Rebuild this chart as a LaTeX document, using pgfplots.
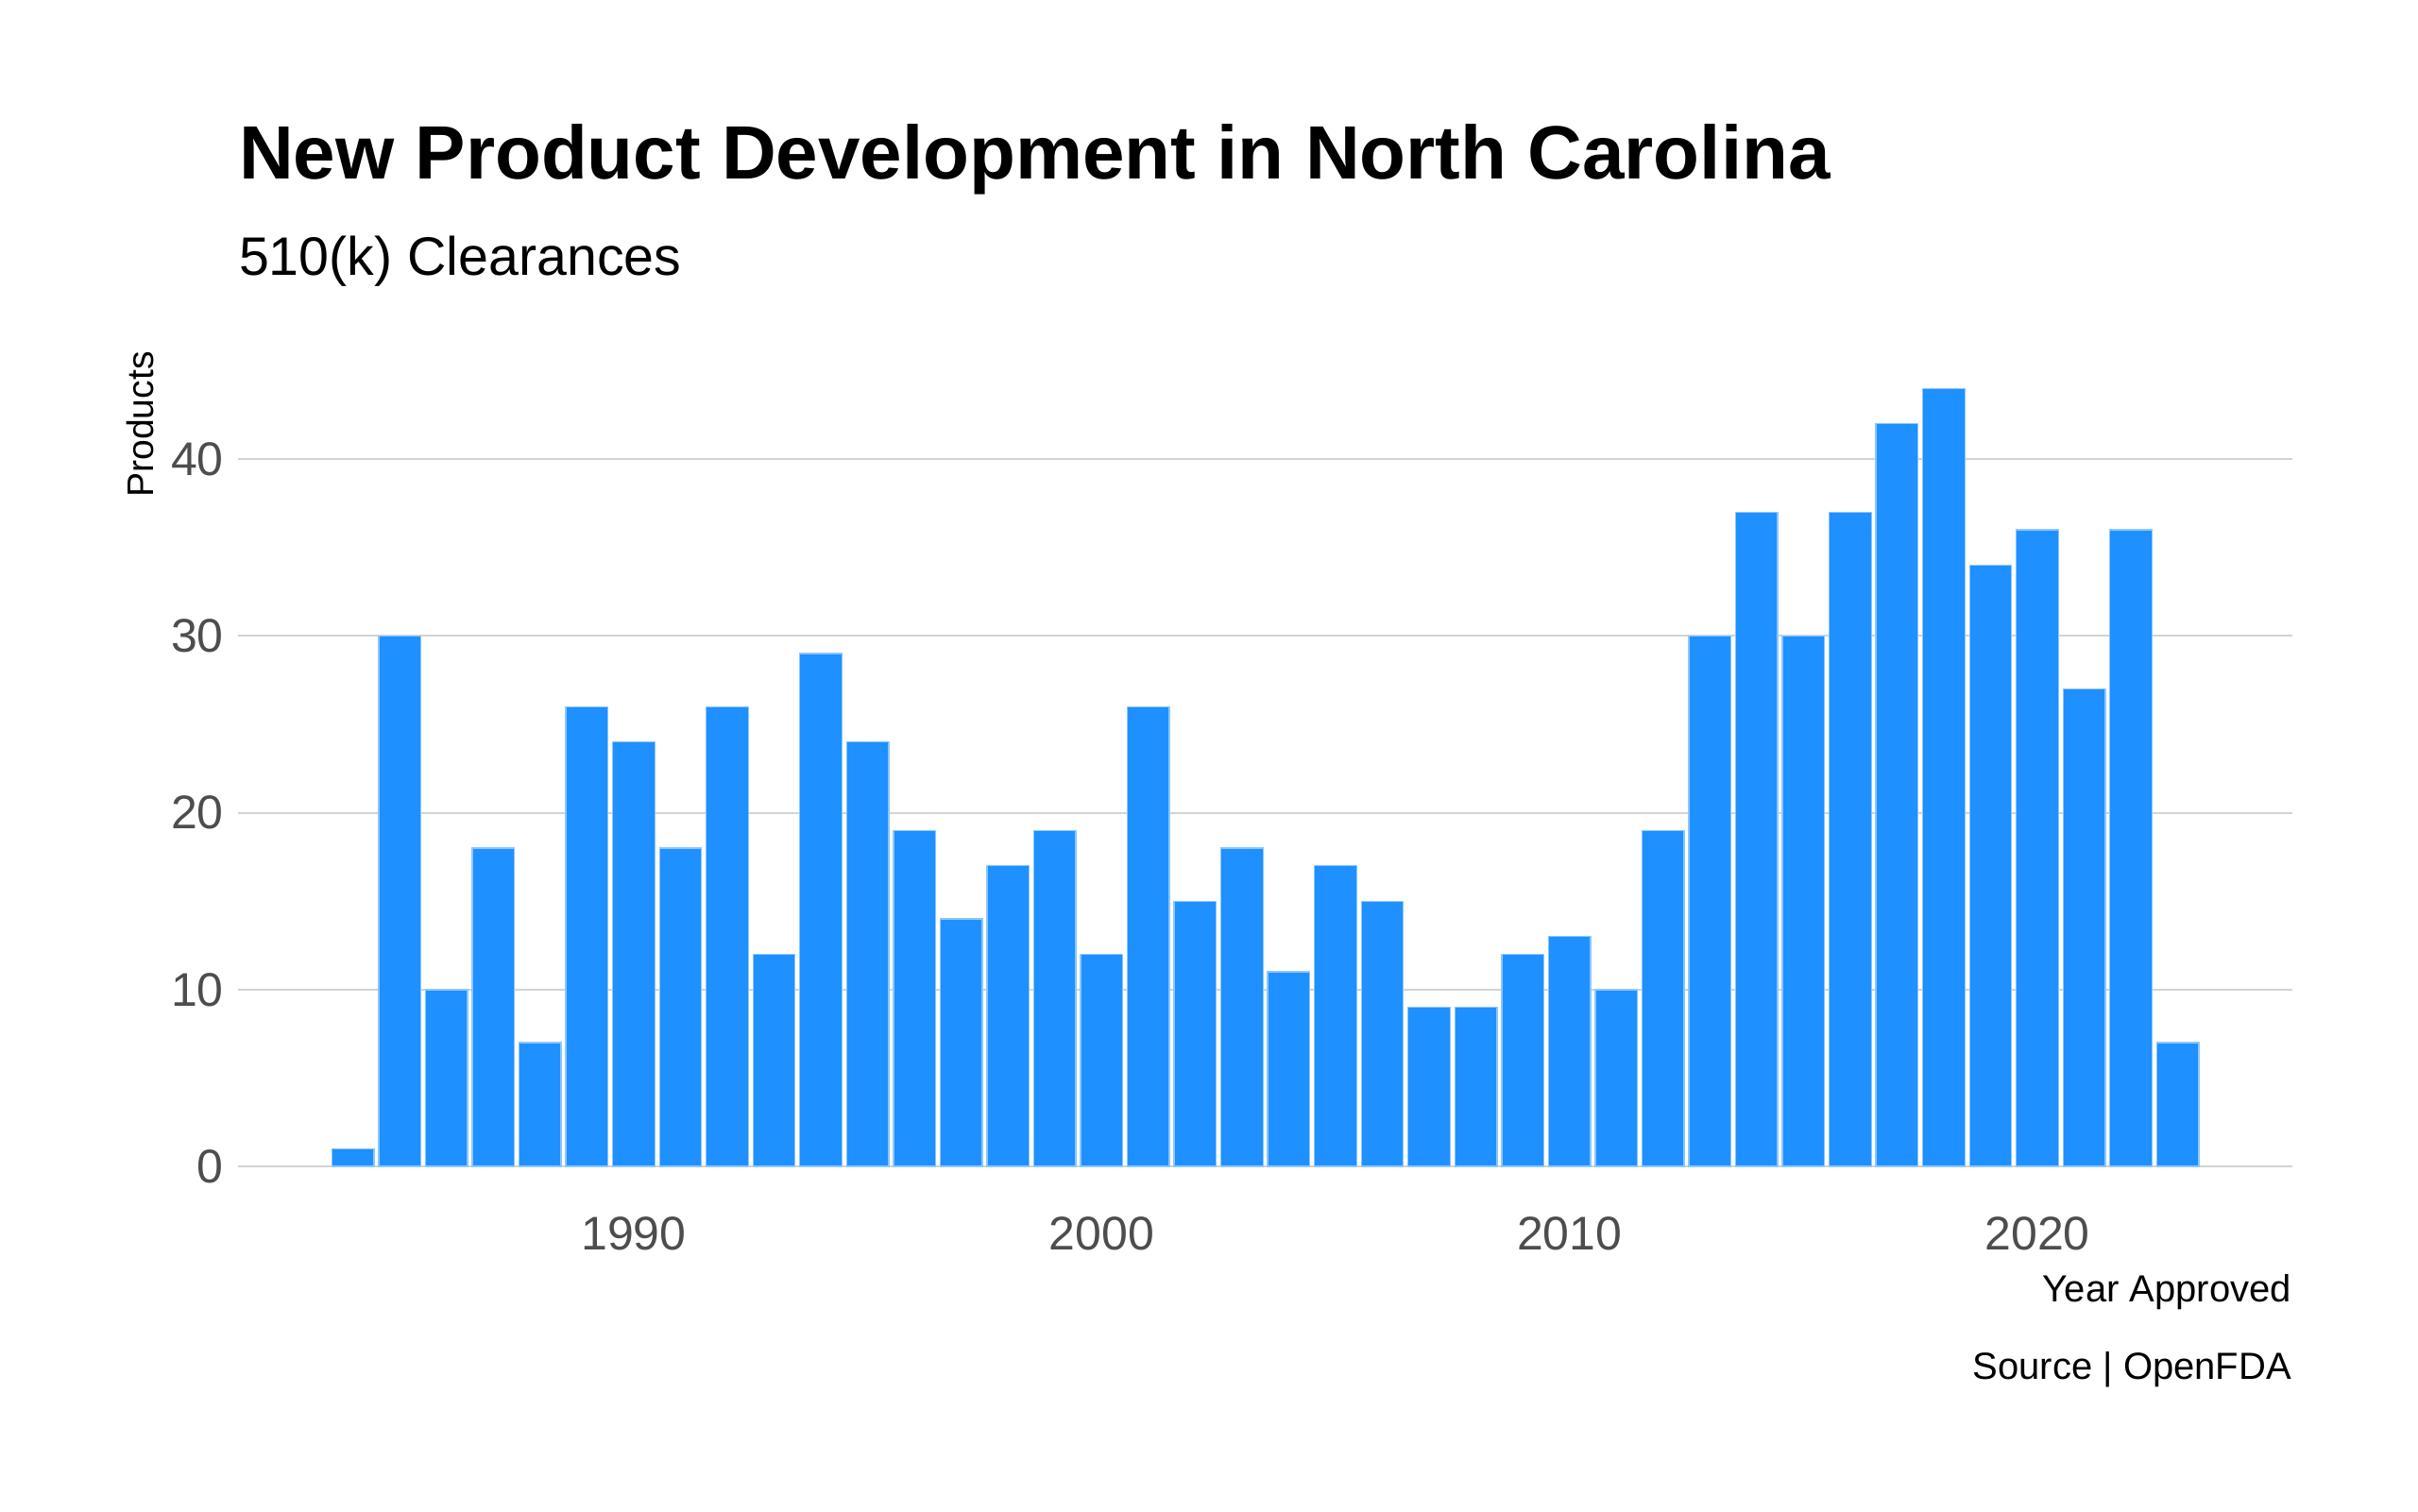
\documentclass[border=0pt]{standalone}
\usepackage{fontspec}
\setmainfont{Liberation Sans}
\usepackage{pgfplots}
\pgfplotsset{compat=1.18}
\definecolor{barblue}{HTML}{1E90FF}
\definecolor{barline}{HTML}{8CC6FF}
\definecolor{gridgrey}{HTML}{D3D3D3}
\definecolor{ticktext}{HTML}{4D4D4D}
\begin{document}
\begin{tikzpicture}
\path (0pt,0pt) rectangle (768pt,480pt);
\begin{axis}[
  at={(75.7pt,97.1pt)}, anchor=south west,
  scale only axis, width=652.4pt, height=271.9pt,
  xmin=1981.55, xmax=2025.45, ymin=-2.2, ymax=46.2,
  axis line style={draw=none},
  major tick length=0pt,
  xtick={1990,2000,2010,2020},
  ytick={0,10,20,30,40},
  ymajorgrids, grid style={gridgrey, line width=0.6pt},
  /pgf/number format/1000 sep={},
  /pgf/number format/assume math mode=true,
  tick label style={font=\fontsize{15}{15}\selectfont, text=ticktext},
  xticklabel style={inner sep=0pt, anchor=north, yshift=-3.5pt},
  yticklabel style={inner sep=0pt, anchor=east, xshift=-4.5pt},
  ybar, bar width=0.9, bar shift=0pt,
  clip=false,
]
\addplot[fill=barblue, draw=barline, line width=0.4pt] coordinates {
(1984,1) (1985,30) (1986,10) (1987,18) (1988,7) (1989,26) (1990,24) (1991,18)
(1992,26) (1993,12) (1994,29) (1995,24) (1996,19) (1997,14) (1998,17) (1999,19)
(2000,12) (2001,26) (2002,15) (2003,18) (2004,11) (2005,17) (2006,15) (2007,9)
(2008,9) (2009,12) (2010,13) (2011,10) (2012,19) (2013,30) (2014,37) (2015,30)
(2016,37) (2017,42) (2018,44) (2019,34) (2020,36) (2021,27) (2022,36) (2023,7)
};
\end{axis}
\node[anchor=base west, inner sep=0pt] at (75.7pt,423pt) {\fontsize{24}{24}\selectfont\bfseries New Product Development in North Carolina};
\node[anchor=base west, inner sep=0pt] at (75.7pt,392.5pt) {\fontsize{17.2}{17.2}\selectfont 510(k) Clearances};
\node[anchor=base east, inner sep=0pt, rotate=90] at (48.75pt,368.5pt) {\fontsize{11.75}{11.75}\selectfont Products};
\node[anchor=base east, inner sep=0pt] at (728pt,66.6pt) {\fontsize{12}{12}\selectfont Year Approved};
\node[anchor=base east, inner sep=0pt] at (728pt,42pt) {\fontsize{12}{12}\selectfont Source | OpenFDA};
\end{tikzpicture}
\end{document}
